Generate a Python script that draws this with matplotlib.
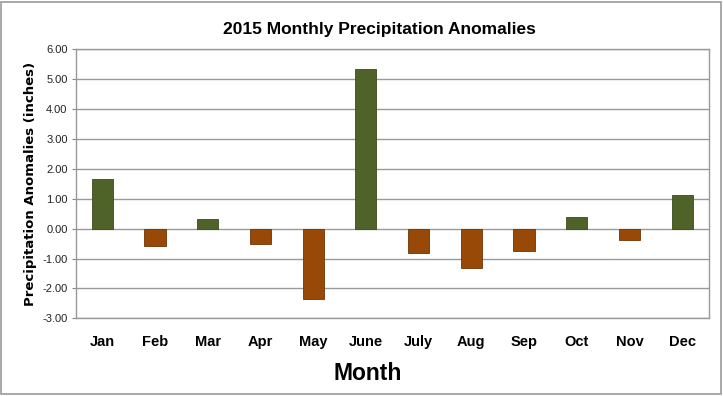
import matplotlib.pyplot as plt
import numpy as np
from matplotlib.patches import Rectangle

# data
months = ["Jan", "Feb", "Mar", "Apr", "May", "June", "July", "Aug", "Sep", "Oct", "Nov", "Dec"]
anomalies = [1.65, -0.59, 0.33, -0.52, -2.36, 5.32, -0.83, -1.33, -0.76, 0.40, -0.38, 1.13]

green = "#4f6228"
brown = "#984807"
colors = [green if v >= 0 else brown for v in anomalies]
edges = ["#3a4a1c" if v >= 0 else "#6e3405" for v in anomalies]

arial = ["Liberation Sans", "DejaVu Sans"]

fig = plt.figure(figsize=(7.23, 3.96), dpi=100)
ax = fig.add_axes([0.105, 0.196, 0.875, 0.680])

x = np.arange(len(months))
ax.bar(x, anomalies, width=0.4, color=colors, edgecolor=edges, linewidth=0.6, zorder=3)

ax.set_xlim(-0.5, len(months) - 0.5)
ax.set_ylim(-3, 6)
ax.set_yticks(np.arange(-3, 7, 1))
ax.set_yticklabels(["%.2f" % v for v in np.arange(-3, 7, 1)], fontsize=8, color="#222222",
                   family=arial)
ax.set_xticks(x)
ax.set_xticklabels(months, fontsize=10.5, fontweight="bold", family=arial)
ax.tick_params(axis="x", length=0, pad=12)
ax.tick_params(axis="y", length=3, color="#888888", pad=3)
ax.yaxis.grid(True, color="#999999", linewidth=1.0, zorder=0)

for s in ax.spines.values():
    s.set_color("#999999")
    s.set_linewidth(1.0)

fig.text(0.525, 0.925, "2015 Monthly Precipitation Anomalies", fontsize=12.5, fontweight="bold",
         family=arial, ha="center", va="center")
ax.set_ylabel("Precipitation Anomalies (inches)", fontsize=9.5, fontweight="bold", labelpad=4)
fig.text(0.508, 0.058, "Month", fontsize=16.5, fontweight="bold", family=arial,
         ha="center", va="center")

# outer border of the chart
fig.patches.append(Rectangle((0.002, 0.005), 0.995, 0.99, transform=fig.transFigure,
                             fill=False, edgecolor="#999999", linewidth=1.2))

fig.savefig("out.png", dpi=100)
